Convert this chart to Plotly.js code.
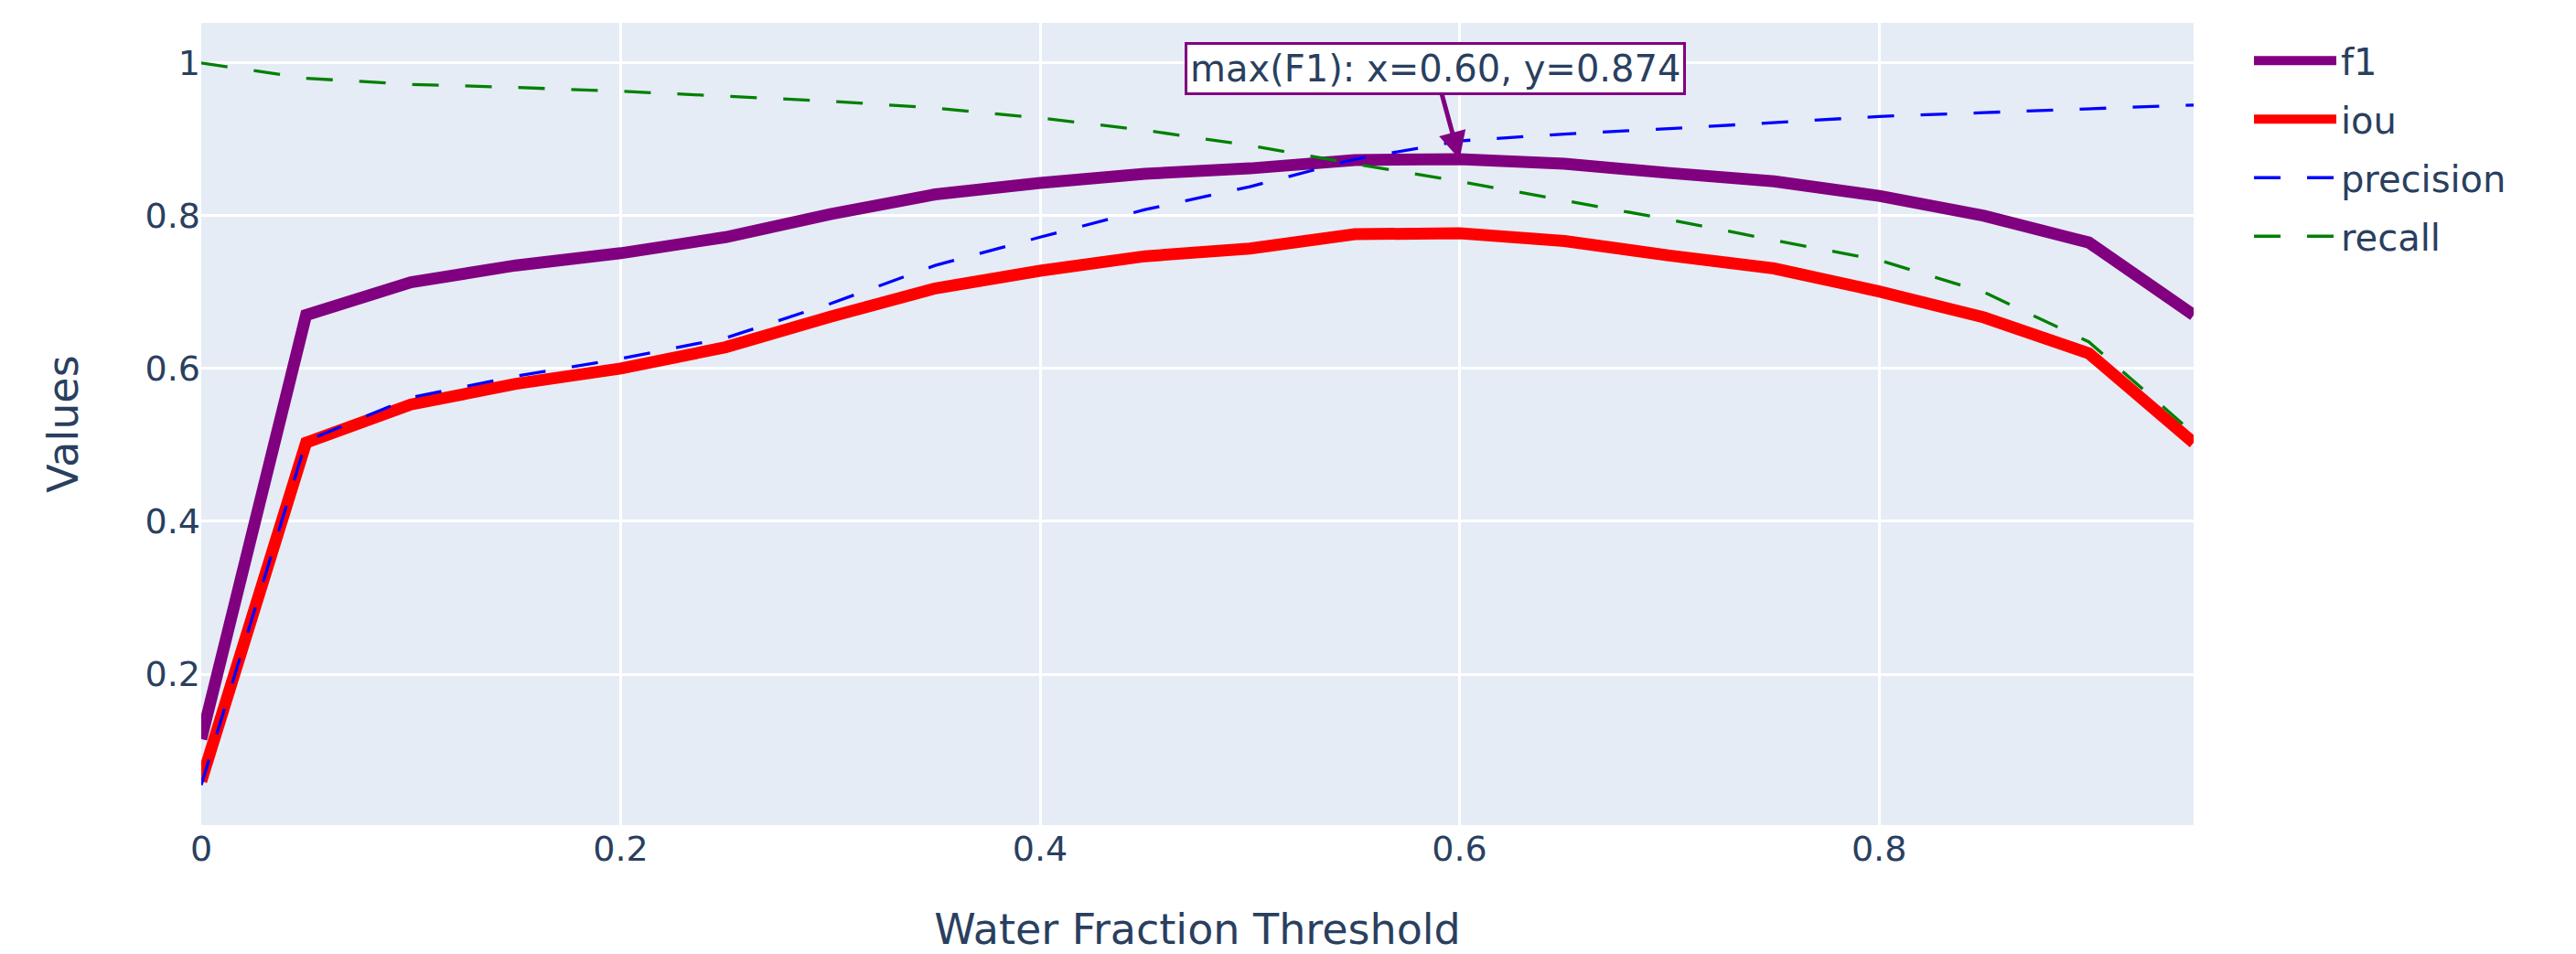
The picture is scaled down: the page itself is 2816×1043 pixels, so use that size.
<!DOCTYPE html>
<html>
<head>
<meta charset="utf-8">
<script src="https://cdn.plot.ly/plotly-3.0.1.min.js"></script>
<style>html,body{margin:0;padding:0;background:#fff;}#chart{width:2816px;height:1043px;}</style>
</head>
<body>
<div id="chart"></div>
<script>
const thresholds = [0, 0.05, 0.1, 0.15, 0.2, 0.25, 0.3, 0.35, 0.4, 0.45, 0.5, 0.55, 0.6, 0.65, 0.7, 0.75, 0.8, 0.85, 0.9, 0.95];
const f1 = [0.115, 0.670, 0.713, 0.735, 0.751, 0.772, 0.802, 0.828, 0.843, 0.855, 0.862, 0.873, 0.874, 0.868, 0.856, 0.845, 0.826, 0.800, 0.765, 0.670];
const iou = [0.060, 0.503, 0.553, 0.580, 0.600, 0.628, 0.668, 0.705, 0.728, 0.747, 0.757, 0.776, 0.777, 0.767, 0.748, 0.731, 0.701, 0.667, 0.620, 0.503];
const precision = [0.055, 0.505, 0.562, 0.590, 0.613, 0.640, 0.685, 0.735, 0.772, 0.808, 0.838, 0.874, 0.898, 0.907, 0.914, 0.922, 0.930, 0.935, 0.940, 0.945];
const recall = [1.000, 0.980, 0.972, 0.968, 0.963, 0.957, 0.950, 0.941, 0.928, 0.912, 0.892, 0.868, 0.845, 0.820, 0.795, 0.768, 0.742, 0.700, 0.635, 0.515];
const seriesNames = ['f1', 'iou', 'precision', 'recall'];

let best = 0;
for (let i = 1; i < f1.length; i++) if (f1[i] > f1[best]) best = i;

const FONT = 'Verdana, "DejaVu Sans", sans-serif';
const traces = [
  {x: thresholds, y: f1, name: seriesNames[0], legendgroup: 'g1', mode: 'lines', line: {color: 'purple', width: 13}},
  {x: thresholds, y: iou, name: seriesNames[1], legendgroup: 'g2', mode: 'lines', line: {color: 'red', width: 13}},
  {x: thresholds, y: precision, name: seriesNames[2], legendgroup: 'g3', mode: 'lines', line: {color: 'blue', width: 3.3, dash: '29px,29px'}},
  {x: thresholds, y: recall, name: seriesNames[3], legendgroup: 'g4', mode: 'lines', line: {color: 'green', width: 3.3, dash: '29px,29px'}}
];

const layout = {
  width: 2816, height: 1043,
  font: {family: FONT, size: 40, color: '#2a3f5f'},
  paper_bgcolor: '#ffffff',
  plot_bgcolor: '#E5ECF6',
  margin: {l: 220, r: 418, t: 25, b: 141},
  xaxis: {
    title: {text: 'Water Fraction Threshold', font: {size: 46}, standoff: 52},
    gridcolor: '#ffffff', gridwidth: 3.3, zeroline: false, showline: false,
    tickfont: {size: 38}, dtick: 0.2
  },
  yaxis: {
    title: {text: 'Values', font: {size: 46}, standoff: 58},
    gridcolor: '#ffffff', gridwidth: 3.3, zeroline: false, showline: false,
    tickfont: {size: 38}, dtick: 0.2
  },
  legend: {font: {size: 40}, x: 1.028, y: 0.99, tracegroupgap: 9, itemwidth: 90},
  showlegend: true,
  annotations: [{
    x: thresholds[best], y: f1[best], xref: 'x', yref: 'y',
    text: 'max(F1): x=' + thresholds[best].toFixed(2) + ', y=' + f1[best].toFixed(3),
    showarrow: true, arrowhead: 2, arrowsize: 1.2, arrowwidth: 5, arrowcolor: 'purple',
    ax: -27, ay: -99,
    font: {size: 40, color: '#2a3f5f'},
    bgcolor: '#ffffff', bordercolor: 'purple', borderwidth: 3, borderpad: 3
  }]
};

Plotly.newPlot('chart', traces, layout, {displayModeBar: false, responsive: false});
</script>
</body>
</html>
